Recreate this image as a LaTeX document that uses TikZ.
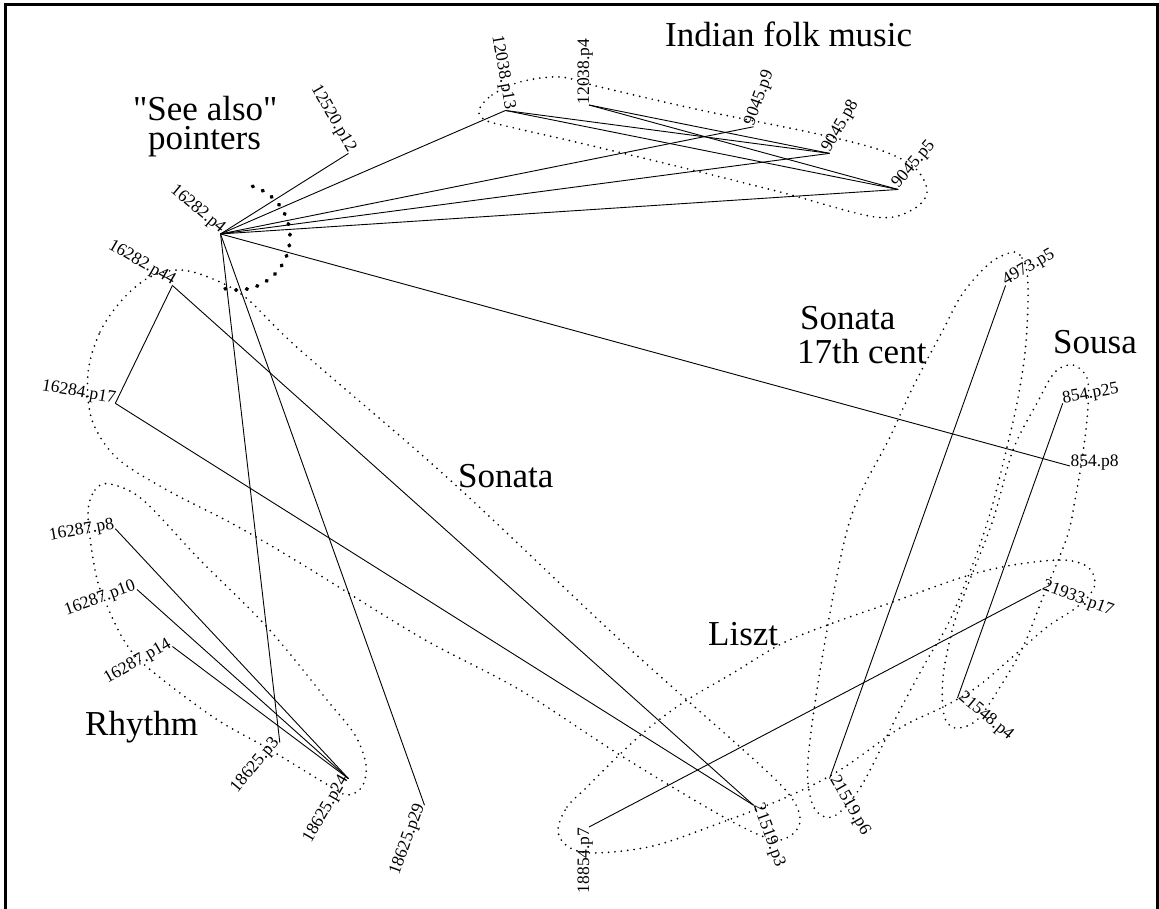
\documentclass[tikz,border=0pt]{standalone}
\usepackage{fontspec}
\setmainfont{Liberation Serif}
% plain family without TeX ligatures, so that " stays a straight quote
\newfontfamily\plainserif{Liberation Serif}
\begin{document}
\begin{tikzpicture}[x=1pt,y=-1pt,
  link/.style={line width=0.9pt},
  hull/.style={line width=1.9pt, dash pattern=on 0pt off 6.4pt, line cap=round},
  seealso/.style={line width=3.8pt, dash pattern=on 0.8pt off 10pt, line cap=round},
  lbl/.style={font=\fontsize{17.5}{20}\selectfont, inner sep=0.4pt},
  title/.style={font=\plainserif\fontsize{35}{40}\selectfont, inner sep=0pt},
  frame/.style={line width=2.7pt}]
\useasboundingbox (0,0) rectangle (1159,909);

% page frame
\draw[frame] (5.5,915) -- (5.5,4.5) -- (1157.5,4.5) -- (1157.5,915);

% documents placed on an ellipse, labels set along the parametric angle
\foreach \t/\n/\s in {0/p0/854.p8, 10/p10/854.p25, 30/p30/4973.p5,
    50/p50/9045.p5, 60/p60/9045.p8, 70/p70/9045.p9, 90/p90/12038.p4,
    290/p290/21519.p3, 300/p300/21519.p6, 320/p320/21548.p4,
    340/p340/21933.p17}{
  \coordinate (\n) at ({589+481*cos(\t)},{466-361*sin(\t)});
  \node[lbl, rotate=\t, anchor=base west] (\n-txt) at (\n) {\s};
}
\foreach \t/\n/\s in {100/p100/12038.p13, 120/p120/12520.p12,
    140/p140/16282.p4, 150/p150/16282.p44, 170/p170/16284.p17,
    190/p190/16287.p8, 200/p200/16287.p10, 210/p210/16287.p14,
    230/p230/18625.p3, 240/p240/18625.p24, 250/p250/18625.p29,
    270/p270/18854.p7}{
  \coordinate (\n) at ({589+481*cos(\t)},{466-361*sin(\t)});
  \node[lbl, rotate={\t-180}, anchor=base east] (\n-txt) at (\n) {\s};
}

% links
\foreach \a/\b in {p140/p120, p140/p100, p140/p70, p140/p60, p140/p50,
    p140/p0, p140/p230, p140/p250, p100/p60, p100/p50, p90/p60, p90/p50,
    p150/p170, p150/p290, p170/p290, p190/p240, p200/p240, p210/p240,
    p270/p340, p30/p300, p10/p320}
  \draw[link] (\a) -- (\b);

% topic clusters
\draw[hull] plot[smooth cycle, tension=0.55] coordinates {
  (479,110) (492,95) (520,82) (560,77) (600,87) (700,110) (813,133)
  (880,150) (915,168) (927,192) (912,210) (875,217) (780,192) (680,167)
  (580,143) (510,127) (485,120)};
\draw[hull] plot[smooth cycle, tension=0.55] coordinates {
  (88,373) (100,332) (122,300) (148,278) (178,270) (208,277) (245,297)
  (300,350) (450,480) (620,640) (760,765) (793,800) (800,822) (790,836)
  (770,839) (720,815) (620,755) (520,690) (420,637) (300,563) (233,524)
  (167,490) (117,458) (92,420)};
\draw[hull] plot[smooth cycle, tension=0.55] coordinates {
  (88,515) (95,490) (110,484) (143,500) (200,560) (267,627) (327,700)
  (355,735) (366,765) (362,787) (348,795) (333,788) (267,748) (213,717)
  (147,667) (125,642) (108,608) (96,575)};
\draw[hull] plot[smooth cycle, tension=0.55] coordinates {
  (1013,252) (1022,258) (1027,272) (1028,303) (1025,353) (1017,403)
  (1007,447) (993,503) (977,553) (950,620) (927,660) (900,710) (863,783)
  (840,812) (825,817) (812,803) (808,760) (823,653) (850,520) (890,437)
  (913,387) (943,330) (963,293) (990,263)};
\draw[hull] plot[smooth cycle, tension=0.55] coordinates {
  (1073,365) (1087,378) (1088,407) (1083,453) (1075,500) (1067,537)
  (1043,597) (1023,647) (1000,687) (977,720) (955,728) (944,715)
  (943,677) (953,627) (967,587) (993,520) (1013,450) (1037,403)
  (1055,372)};
\draw[hull] plot[smooth cycle, tension=0.55] coordinates {
  (558,830) (567,807) (587,787) (617,757) (650,727) (687,700) (733,673)
  (783,643) (833,623) (890,603) (963,577) (1013,565) (1063,560)
  (1088,567) (1095,583) (1088,597) (1073,610) (1047,627) (1017,653)
  (977,687) (943,707) (900,728) (840,770) (787,797) (720,823) (653,846)
  (593,853) (567,846)};

% see-also arc around 16282.p4
\draw[seealso] plot[domain=-73:112, samples=60]
  ({237+53*cos(\x)},{237+53*sin(\x)});

% cluster titles
\node[title, anchor=base west] (tIndian) at (665,47) {Indian folk music};
\node[title, anchor=base west] (tSee1) at (133,121) {"See also"};
\node[title, anchor=base west] (tSee2) at (148,150) {pointers};
\node[title, anchor=base west] (tSonata) at (458,487) {Sonata};
\node[title, anchor=base west] (tSev1) at (800,330) {Sonata};
\node[title, anchor=base west] (tSev2) at (797,363) {17th cent};
\node[title, anchor=base west] (tSousa) at (1053,353) {Sousa};
\node[title, anchor=base west] (tLiszt) at (708,645) {Liszt};
\node[title, anchor=base west] (tRhythm) at (85,735) {Rhythm};
\end{tikzpicture}
\end{document}
